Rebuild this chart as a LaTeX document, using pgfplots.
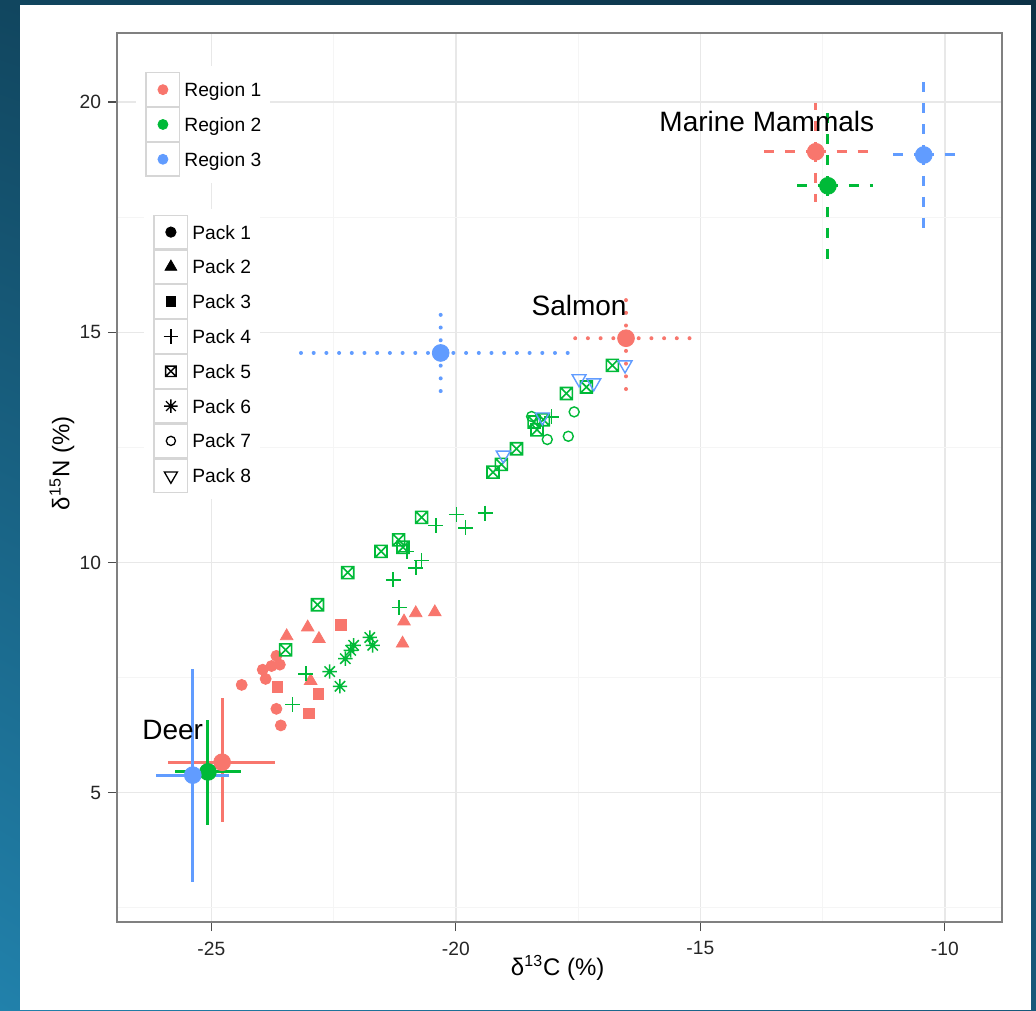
\documentclass[border=0pt]{standalone}
\usepackage{fontspec}
\setmainfont{Liberation Sans}
\usepackage{pgfplots}
\pgfplotsset{compat=1.18}
\usetikzlibrary{shadings}

\definecolor{rR}{HTML}{F8766D}
\definecolor{rG}{HTML}{00BA38}
\definecolor{rB}{HTML}{619CFF}
\definecolor{bgTL}{HTML}{11465F}
\definecolor{bgTR}{HTML}{0C3146}
\definecolor{bgBL}{HTML}{2181AB}
\definecolor{bgBR}{HTML}{17587A}

% square with a cross (pack 5)
\pgfdeclareplotmark{boxx}{%
  \pgfpathrectangle{\pgfqpoint{-\pgfplotmarksize}{-\pgfplotmarksize}}{\pgfqpoint{2\pgfplotmarksize}{2\pgfplotmarksize}}%
  \pgfpathmoveto{\pgfqpoint{-\pgfplotmarksize}{-\pgfplotmarksize}}\pgfpathlineto{\pgfqpoint{\pgfplotmarksize}{\pgfplotmarksize}}%
  \pgfpathmoveto{\pgfqpoint{-\pgfplotmarksize}{\pgfplotmarksize}}\pgfpathlineto{\pgfqpoint{\pgfplotmarksize}{-\pgfplotmarksize}}%
  \pgfusepathqstroke}
% eight-armed asterisk (pack 6)
\pgfdeclareplotmark{star8}{%
  \pgfpathmoveto{\pgfqpoint{-\pgfplotmarksize}{0pt}}\pgfpathlineto{\pgfqpoint{\pgfplotmarksize}{0pt}}%
  \pgfpathmoveto{\pgfqpoint{0pt}{-\pgfplotmarksize}}\pgfpathlineto{\pgfqpoint{0pt}{\pgfplotmarksize}}%
  \pgfpathmoveto{\pgfqpoint{-0.72\pgfplotmarksize}{-0.72\pgfplotmarksize}}\pgfpathlineto{\pgfqpoint{0.72\pgfplotmarksize}{0.72\pgfplotmarksize}}%
  \pgfpathmoveto{\pgfqpoint{-0.72\pgfplotmarksize}{0.72\pgfplotmarksize}}\pgfpathlineto{\pgfqpoint{0.72\pgfplotmarksize}{-0.72\pgfplotmarksize}}%
  \pgfusepathqstroke}

\pgfplotsset{
  panel/.style={at={(58.5pt,44pt)}, anchor=south west, scale only axis,
    width=442.5pt, height=444.5pt},
  keylegend/.style={
    hide axis, xmin=0, xmax=1, ymin=0, ymax=1,
    legend cell align=left,
    legend style={draw=none, fill=white, inner xsep=4.5pt, inner ysep=3pt,
      row sep=0pt, column sep=2pt, anchor=north west,
      nodes={inner sep=0pt, text depth=0pt},
      font=\fontsize{9.6}{11}\selectfont},
    legend image code/.code={%
      \draw[solid, line width=0.6pt, draw=black!16, fill=white]
        (-8.45pt,-8.4pt) rectangle (8.45pt,8.4pt);
      \draw plot coordinates {(0pt,0pt)};%
    }},
  meanpt/.style={only marks, mark=*, mark size=4.2pt, mark options={draw=none},
    error bars/x dir=both, error bars/x explicit,
    error bars/y dir=both, error bars/y explicit,
    error bars/error mark=none},
  solidbar/.style={error bars/error bar style={line width=1.5pt, solid}},
  dotbar/.style={error bars/error bar style={line width=2pt, line cap=round,
    dash pattern=on 0pt off 6.35pt}},
  dashbar/.style={error bars/error bar style={line width=1.5pt,
    dash pattern=on 5pt off 5.5pt}},
}

\begin{document}
\begin{tikzpicture}
\path[use as bounding box] (0,0) rectangle (518pt,505pt);
\shade[upper left=bgTL, upper right=bgTR, lower left=bgBL, lower right=bgBR]
  (0,0) rectangle (518pt,505pt);
\fill[white] (10pt,0pt) rectangle (515.5pt,502.5pt);

\begin{axis}[panel,
  xmin=-26.93, xmax=-8.83, ymin=2.19, ymax=21.50,
  xtick={-25,-20,-15,-10}, ytick={5,10,15,20},
  minor xtick={-22.5,-17.5,-12.5}, minor ytick={2.5,7.5,12.5,17.5},
  grid=both,
  major grid style={draw=black!9, line width=0.7pt},
  minor grid style={draw=black!4, line width=0.5pt},
  tick align=outside, tick pos=left,
  major tick length=4.5pt, minor tick length=0pt,
  every tick/.style={draw=black!70, line width=0.6pt},
  axis line style={draw=black!50, line width=0.8pt},
  /pgf/number format/assume math mode=true,
  tick label style={font=\fontsize{9.6}{11}\selectfont, text=black!85},
  xticklabel style={yshift=-1.8pt},
  label style={font=\fontsize{12}{14}\selectfont},
  xlabel={δ\textsuperscript{13}C (\%)},
  ylabel={δ\textsuperscript{15}N (\%)},
  xlabel style={at={(axis description cs:0.498,-0.0517)}, anchor=center},
  ylabel style={at={(axis description cs:-0.0621,0.516)}, anchor=center},
]
% pack 1
\addplot[only marks, mark=*, mark size=2.75pt, rR, mark options={draw=none}] coordinates {
  (-24.38,7.34) (-23.95,7.67) (-23.89,7.47) (-23.77,7.75)
  (-23.67,7.97) (-23.60,7.78) (-23.67,6.82) (-23.58,6.46)};
% pack 2
\addplot[only marks, mark=triangle*, mark size=3.6pt, rR, mark options={draw=none}] coordinates {
  (-20.43,8.92) (-20.82,8.90) (-21.06,8.72) (-21.09,8.24)
  (-23.03,8.59) (-22.80,8.34) (-23.46,8.40) (-22.97,7.43)};
% pack 3
\addplot[only marks, mark=square*, mark size=2.7pt, rR, mark options={draw=none}] coordinates {
  (-22.35,8.65) (-23.65,7.30) (-22.81,7.15) (-23.00,6.72)};
% pack 4
\addplot[only marks, mark=+, mark size=3.75pt, rG, mark options={line width=0.8pt}] coordinates {
  (-19.40,11.07) (-19.99,11.04) (-20.41,10.80) (-19.80,10.75)
  (-21.00,10.24) (-20.70,10.04) (-20.82,9.88) (-21.28,9.62)
  (-21.16,9.02) (-23.07,7.58) (-23.34,6.91) (-18.04,13.16)};
% pack 5
\addplot[only marks, mark=boxx, mark size=3pt, rG, mark options={line width=0.8pt}] coordinates {
  (-20.70,10.98) (-21.17,10.49) (-21.08,10.33) (-21.53,10.24)
  (-22.21,9.78) (-22.83,9.08) (-23.48,8.10) (-19.24,11.96)
  (-19.07,12.13) (-18.76,12.47) (-18.40,13.05) (-18.34,12.88)
  (-18.21,13.10) (-17.74,13.67) (-17.33,13.81) (-16.80,14.28)};
% pack 6
\addplot[only marks, mark=star8, mark size=3.6pt, rG, mark options={line width=0.75pt}] coordinates {
  (-21.76,8.37) (-21.70,8.20) (-22.09,8.20) (-22.15,8.09)
  (-22.26,7.91) (-22.58,7.63) (-22.37,7.31)};
% pack 7
\addplot[only marks, mark=o, mark size=2.5pt, rG, mark options={line width=0.7pt}] coordinates {
  (-17.58,13.27) (-17.70,12.74) (-18.13,12.67) (-18.45,13.17)};
% pack 8
\addplot[only marks, mark=triangle, mark size=4pt, rB, mark options={rotate=180, line width=0.7pt}] coordinates {
  (-16.54,14.29) (-17.48,13.99) (-17.18,13.90) (-18.23,13.16) (-19.03,12.33)};

% deer: means with solid bars
\addplot[rR, meanpt, solidbar]
  coordinates {(-24.78,5.66) += (1.08,1.39) -= (1.11,1.30)};
\addplot[rG, meanpt, solidbar]
  coordinates {(-25.07,5.45) += (0.67,1.13) -= (0.68,1.16)};
\addplot[rB, meanpt, solidbar]
  coordinates {(-25.38,5.38) += (0.74,2.30) -= (0.75,2.32)};
% salmon: dotted bars
\addplot[rR, meanpt, dotbar]
  coordinates {(-16.52,14.87) += (1.35,0.98) -= (1.17,1.13)};
\addplot[rB, meanpt, dotbar]
  coordinates {(-20.31,14.55) += (2.85,1.04) -= (2.88,1.09)};
% marine mammals: dashed bars
\addplot[rR, meanpt, dashbar]
  coordinates {(-12.64,18.92) += (1.06,1.06) -= (1.08,1.09)};
\addplot[rG, meanpt, dashbar]
  coordinates {(-12.39,18.18) += (0.92,1.71) -= (0.82,1.68)};
\addplot[rB, meanpt, dashbar]
  coordinates {(-10.43,18.85) += (0.78,1.68) -= (0.74,1.77)};

\node[font=\fontsize{14}{16}\selectfont] at (axis cs:-13.64,19.57) {Marine Mammals};
\node[font=\fontsize{14}{16}\selectfont] at (axis cs:-17.48,15.59) {Salmon};
\node[font=\fontsize{14}{16}\selectfont] at (axis cs:-25.79,6.35) {Deer};
\end{axis}

% region legend
\begin{axis}[panel, keylegend, legend style={at={(0.0215,0.963)}}]
\addlegendimage{only marks, mark=*, mark size=2.5pt, rR, mark options={draw=none}}
\addlegendentry{Region 1}
\addlegendimage{only marks, mark=*, mark size=2.5pt, rG, mark options={draw=none}}
\addlegendentry{Region 2}
\addlegendimage{only marks, mark=*, mark size=2.5pt, rB, mark options={draw=none}}
\addlegendentry{Region 3}
\end{axis}

% pack legend
\begin{axis}[panel, keylegend, legend style={at={(0.0305,0.8028)}}]
\addlegendimage{only marks, mark=*, mark size=2.6pt, black}
\addlegendentry{Pack 1}
\addlegendimage{only marks, mark=triangle*, mark size=3.4pt, black}
\addlegendentry{Pack 2}
\addlegendimage{only marks, mark=square*, mark size=2.4pt, black}
\addlegendentry{Pack 3}
\addlegendimage{only marks, mark=+, mark size=3.6pt, black, mark options={line width=0.7pt}}
\addlegendentry{Pack 4}
\addlegendimage{only marks, mark=boxx, mark size=2.6pt, black, mark options={line width=0.7pt}}
\addlegendentry{Pack 5}
\addlegendimage{only marks, mark=star8, mark size=3.4pt, black, mark options={line width=0.65pt}}
\addlegendentry{Pack 6}
\addlegendimage{only marks, mark=o, mark size=2.3pt, black, mark options={line width=0.65pt}}
\addlegendentry{Pack 7}
\addlegendimage{only marks, mark=triangle, mark size=3.8pt, black, mark options={rotate=180, line width=0.65pt}}
\addlegendentry{Pack 8}
\end{axis}
\end{tikzpicture}
\end{document}
